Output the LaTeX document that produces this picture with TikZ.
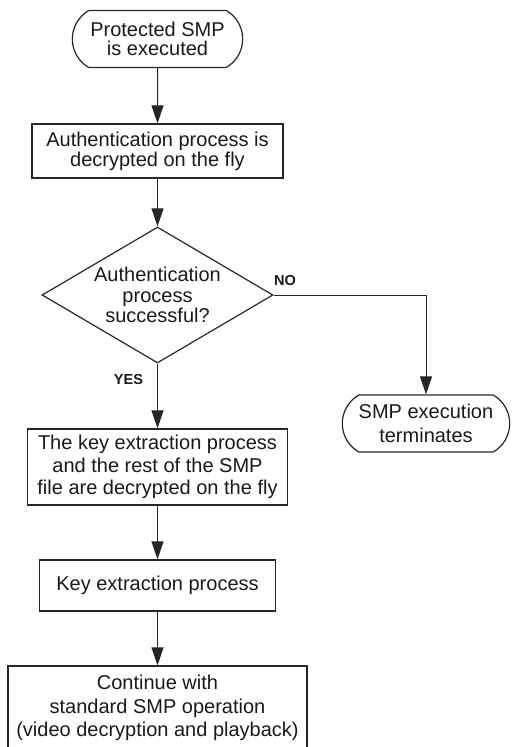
\documentclass[tikz,border=0pt]{standalone}
\usepackage{fontspec}
\setmainfont{Liberation Sans}
\usetikzlibrary{shapes.geometric}
\usetikzlibrary{shapes.misc}
\usetikzlibrary{arrows.meta}

\begin{document}
\begin{tikzpicture}[x=1pt, y=1pt, node distance=100pt, line width=1pt, >={Triangle[length=18pt,width=12pt]},
	terminal/.style={rounded rectangle, rounded rectangle arc length=120, draw=black!85, line width=1.2pt, text=black!90, align=center, minimum height=57pt, font=\fontsize{20}{19.5}\selectfont},
	process/.style={rectangle, draw=black!85, line width=1.2pt, text=black!90, align=center, font=\fontsize{20}{22.5}\selectfont},
	decision/.style={diamond, aspect=1.7, draw=black!85, line width=1.2pt, text=black!90, align=center, inner sep=-3pt, minimum width=231pt, minimum height=136pt, font=\fontsize{20}{20.5}\selectfont},
	answer/.style={inner sep=0pt, text=black!90, font=\fontsize{14.5}{16}\bfseries\selectfont}]
	\useasboundingbox (0,0) rectangle (512,-747);

	% nodes
	\node[terminal, minimum width=177pt] (start) at (157.5,-39) {Protected SMP\\is executed};
	\node[process, minimum width=251pt, minimum height=54pt, below of=start, yshift=-12pt, font=\fontsize{20}{20}\selectfont] (auth) {Authentication process is\\decrypted on the fly};
	\node[decision, below of=auth, yshift=-44pt] (dec) {Authentication\\process\\successful?};
	\node[terminal, minimum width=174pt, right of=dec, xshift=168.5pt, yshift=-128.5pt, font=\fontsize{20}{23.5}\selectfont] (stop) {SMP execution\\terminates};
	\node[process, minimum width=260pt, minimum height=76pt, below of=dec, yshift=-72pt] (keyfile) {The key extraction process\\and the rest of the SMP\\file are decrypted on the fly};
	\node[process, minimum width=236pt, minimum height=51pt, below of=keyfile, yshift=-18.5pt] (keyext) {Key extraction process};
	\node[process, minimum width=299pt, minimum height=84pt, below of=keyext, yshift=-22.5pt, font=\fontsize{20}{23.5}\selectfont] (cont) {Continue with\\standard SMP operation\\(video decryption and playback)};

	% edges
	\draw [->, draw=black!85] (start) -- (auth);
	\draw [->, draw=black!85] (auth) -- (dec);
	\draw [->, draw=black!85] (dec) -- node[answer, pos=.24, left=14pt] {YES} (keyfile);
	\draw [->, draw=black!85] (dec) -| node[answer, pos=0, anchor=south west, yshift=9pt] {NO} (stop);
	\draw [->, draw=black!85] (keyfile) -- (keyext);
	\draw [->, draw=black!85] (keyext) -- (cont);
\end{tikzpicture}
\end{document}
